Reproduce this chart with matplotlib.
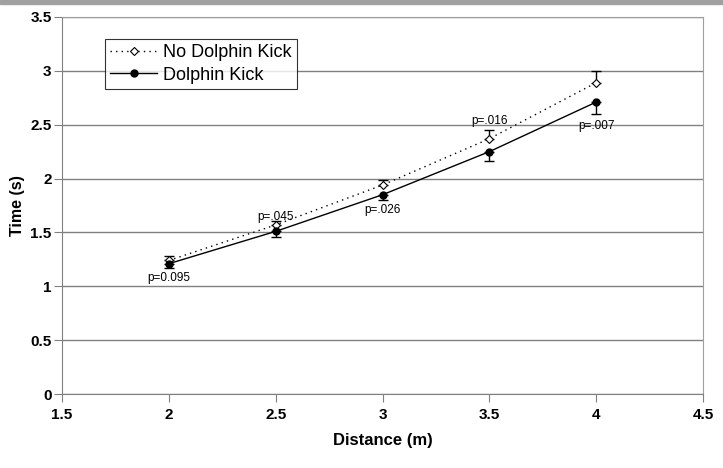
import numpy as np
import matplotlib.pyplot as plt
from matplotlib.patches import Rectangle

plt.rcParams['font.family'] = ['Liberation Sans', 'DejaVu Sans']

# Datos
distance = [2, 2.5, 3, 3.5, 4]
no_kick = [1.24, 1.57, 1.94, 2.37, 2.89]
no_kick_err = [0.04, 0.04, 0.05, 0.08, 0.11]
kick = [1.21, 1.51, 1.85, 2.25, 2.71]
kick_err = [0.04, 0.05, 0.05, 0.09, 0.11]

p_labels = ["p=0.095", "p=.045", "p=.026", "p=.016", "p=.007"]
p_y = [1.08, 1.64, 1.71, 2.53, 2.49]

fig = plt.figure(figsize=(7.23, 4.68), dpi=100)
ax = fig.add_axes([0.0858, 0.158, 0.8865, 0.8057])

# franja gris de arriba
fig.patches.append(Rectangle((0, 0.991), 1, 0.009, transform=fig.transFigure,
                             color='#a0a0a0', zorder=0))

ax.errorbar(distance, no_kick, yerr=[np.zeros(5), no_kick_err], fmt='none',
            ecolor='black', elinewidth=1, capsize=3.5, capthick=1, zorder=3)
ax.errorbar(distance, kick, yerr=[kick_err, np.zeros(5)], fmt='none',
            ecolor='black', elinewidth=1, capsize=3.5, capthick=1, zorder=3)

ax.plot(distance, no_kick, linestyle=(0, (1, 3)), color='black', lw=1,
        marker='D', markersize=4, markerfacecolor='white', markeredgecolor='black',
        markeredgewidth=0.8, label='No Dolphin Kick', zorder=4)
ax.plot(distance, kick, linestyle='-', color='black', lw=1,
        marker='o', markersize=5, label='Dolphin Kick', zorder=4)

for x, y, t in zip(distance, p_y, p_labels):
    ax.text(x, y, t, ha='center', va='center', fontsize=8.5)

ax.set_xlim(1.5, 4.5)
ax.set_ylim(0, 3.5)
ax.set_xticks(np.arange(1.5, 4.51, 0.5))
ax.set_yticks(np.arange(0, 3.51, 0.5))
ax.set_xticklabels(['1.5', '2', '2.5', '3', '3.5', '4', '4.5'])
ax.set_yticklabels(['0', '0.5', '1', '1.5', '2', '2.5', '3', '3.5'])
ax.grid(axis='y', color='#808080', lw=1)
ax.set_axisbelow(True)

for lab in ax.get_xticklabels() + ax.get_yticklabels():
    lab.set_fontweight('bold')
    lab.set_fontsize(11)
ax.tick_params(axis='x', direction='out', length=6, color='#808080', pad=4)
ax.tick_params(axis='y', direction='out', length=6, color='#808080', pad=1.5)

ax.spines['left'].set_color('#808080')
ax.spines['bottom'].set_color('#808080')
ax.spines['top'].set_color('#a0a0a0')
ax.spines['right'].set_color('#a0a0a0')

ax.set_xlabel('Distance (m)', fontweight='bold', fontsize=12, labelpad=8)
ax.set_ylabel('Time (s)', fontweight='bold', fontsize=11.5)
ax.yaxis.set_label_coords(-0.058, 0.5)

leg = ax.legend(loc='upper left', bbox_to_anchor=(0.067, 0.942), fontsize=13,
                frameon=True, fancybox=False, borderpad=0.3, handlelength=2.6,
                handletextpad=0.3, labelspacing=0.3, borderaxespad=0)
leg.get_frame().set_edgecolor('black')
leg.get_frame().set_linewidth(0.8)

fig.savefig('out.png', dpi=100)
